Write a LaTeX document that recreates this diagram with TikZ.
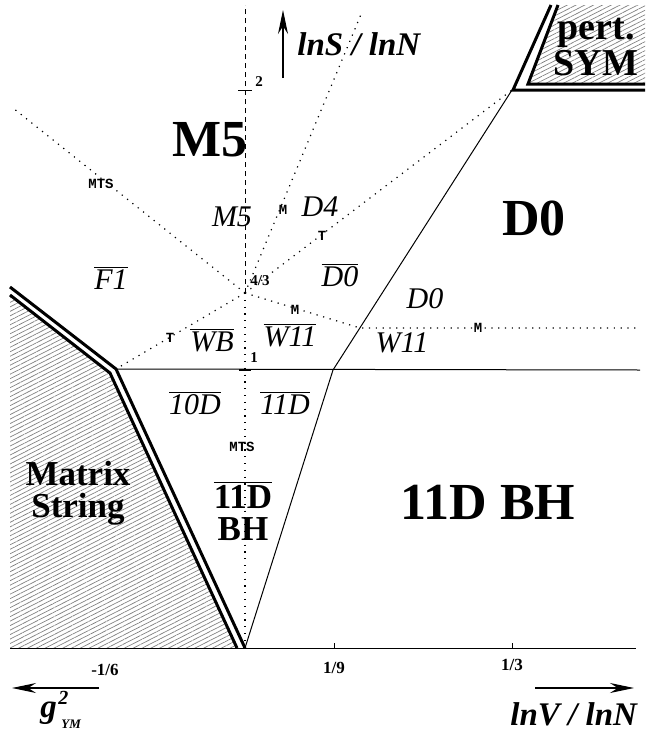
\documentclass[tikz,border=0pt]{standalone}
\usepackage{fontspec}
\setmainfont{Liberation Serif}
\newfontfamily\courfont{Liberation Mono}
\usetikzlibrary{arrows.meta,patterns.meta}

\begin{document}
\begin{tikzpicture}[x=0.5pt,y=-0.5pt]
   \tikzstyle{every node}=[inner sep=0pt]
   \tikzstyle{big}=[font=\fontsize{26}{26}\selectfont\bfseries]
   \tikzstyle{bold}=[font=\fontsize{17.5}{16}\selectfont\bfseries, align=center]
   \tikzstyle{phase}=[font=\fontsize{15}{15}\selectfont\itshape]
   \tikzstyle{tag}=[font=\fontsize{7}{7}\selectfont\courfont\bfseries]
   \tikzstyle{num}=[font=\fontsize{7.5}{7.5}\selectfont\bfseries]
   \tikzstyle{ticknum}=[font=\fontsize{8.5}{8.5}\selectfont\bfseries]
   \tikzstyle{axislabel}=[font=\fontsize{16.5}{16.5}\selectfont\bfseries\itshape]
   \tikzstyle{wall}=[line width=1.5pt]
   \tikzstyle{bound}=[line width=0.5pt]
   \tikzstyle{sep}=[line width=0.6pt, dash pattern=on 0.6pt off 2.8pt]
   \tikzstyle{hatch}=[pattern={Lines[angle=27,distance=2pt,line width=0.35pt]}, pattern color=gray]
   \tikzstyle{axisarrow}=[line width=0.6pt, -{Stealth[length=12pt,width=5pt]}]

\useasboundingbox (0,0) rectangle (645,734);

\coordinate (O) at (245,648);
\coordinate (Q) at (245,293);
\coordinate (J) at (333,370);
\coordinate (P) at (512,90);
\coordinate (K) at (116,369);
\coordinate (R) at (360,328);

\fill[hatch] (10,295) -- (110,373) -- (237,648) -- (10,648) -- cycle;
\fill[hatch] (558,5) -- (528,84) -- (645,84) -- (645,5) -- cycle;
\draw[wall] (10,287) -- (K) -- (O);
\draw[wall] (10,295) -- (110,373) -- (237,648);
\draw[wall] (551,5) -- (513,90) -- (645,90);
\draw[wall] (558,5) -- (528,84) -- (645,84);

\draw[bound] (10,648) -- (636,648);
\draw[bound] (334,648) -- (334,643) (512,648) -- (512,643);
\draw[bound] (K) -- (640,370);
\draw[bound] (O) -- (J) -- (P);
\draw[bound] (238,90) -- (252,90);
\draw[line width=1.2pt] (239,370) -- (251,370);

\draw[sep] (Q) -- (13,108) (Q) -- (362,12) (Q) -- (P) (Q) -- (K);
\draw[sep] (Q) -- (R) -- (636,328);
\draw[sep] (Q) -- (O);
\draw[bound, dash pattern=on 2.5pt off 2pt] (Q) -- (245,5);

\draw[axisarrow] (283,78) -- (283,10);
\draw[axisarrow] (99,688) -- (12,688);
\draw[axisarrow] (535,688) -- (634,688);

\node[big] (m5big) at (210,140) {M5};
\node[big] (d0big) at (534,218) {D0};
\node[big] (bh11) at (488,502) {11D BH};
\node[bold] (matrix) at (78,493) {Matrix\\String};
\node[bold, font=\fontsize{19}{15}\selectfont\bfseries] (pert) at (596,47) {pert.\\SYM};
\node[bold] (bh11bar) at (243,511) {$\overline{\hbox{11D}}$\\BH};

\node[phase] (m5) at (232,217) {M5};
\node[phase] (d4) at (320,207) {D4};
\node[phase] (d0bar) at (340,275) {$\overline{\hbox{D0}}$};
\node[phase] (d0) at (425,299) {D0};
\node[phase] (w11) at (402,343) {W11};
\node[phase] (f1bar) at (111,278) {$\overline{\hbox{F1}}$};
\node[phase] (wbbar) at (212,340) {$\overline{\hbox{WB}}$};
\node[phase] (w11bar) at (290,335) {$\overline{\hbox{W11}}$};
\node[phase] (d10bar) at (195,403) {$\overline{\hbox{10D}}$};
\node[phase] (d11bar) at (285,403) {$\overline{\hbox{11D}}$};

\node[tag] (mtsA) at (101,184) {MTS};
\node[tag] (mA) at (283,210) {M};
\node[tag] (tA) at (322,236) {T};
\node[tag] (mB) at (295,310) {M};
\node[tag] (mC) at (478,328) {M};
\node[tag] (tB) at (170,338) {T};
\node[tag] (mtsB) at (242,447) {MTS};

\node[num] (two) at (259,82) {2};
\node[num] (fourthirds) at (260,281) {4/3};
\node[num] (one) at (254,358) {1};
\node[ticknum] (sixth) at (105,670) {-1/6};
\node[ticknum] (ninth) at (334,668) {1/9};
\node[ticknum] (third) at (512,665) {1/3};

\node[axislabel, anchor=base west] (lnS) at (297,55) {lnS / lnN};
\node[axislabel, anchor=base west] (lnV) at (510,725) {lnV / lnN};
\node[axislabel, anchor=base west] (g) at (40,717) {g};
\node[axislabel, font=\fontsize{10}{10}\selectfont\bfseries\itshape, anchor=base west] (gsq) at (58,704) {2};
\node[axislabel, font=\fontsize{6.5}{6.5}\selectfont\bfseries\itshape, anchor=base west] (gym) at (61,728) {YM};

\end{tikzpicture}
\end{document}
